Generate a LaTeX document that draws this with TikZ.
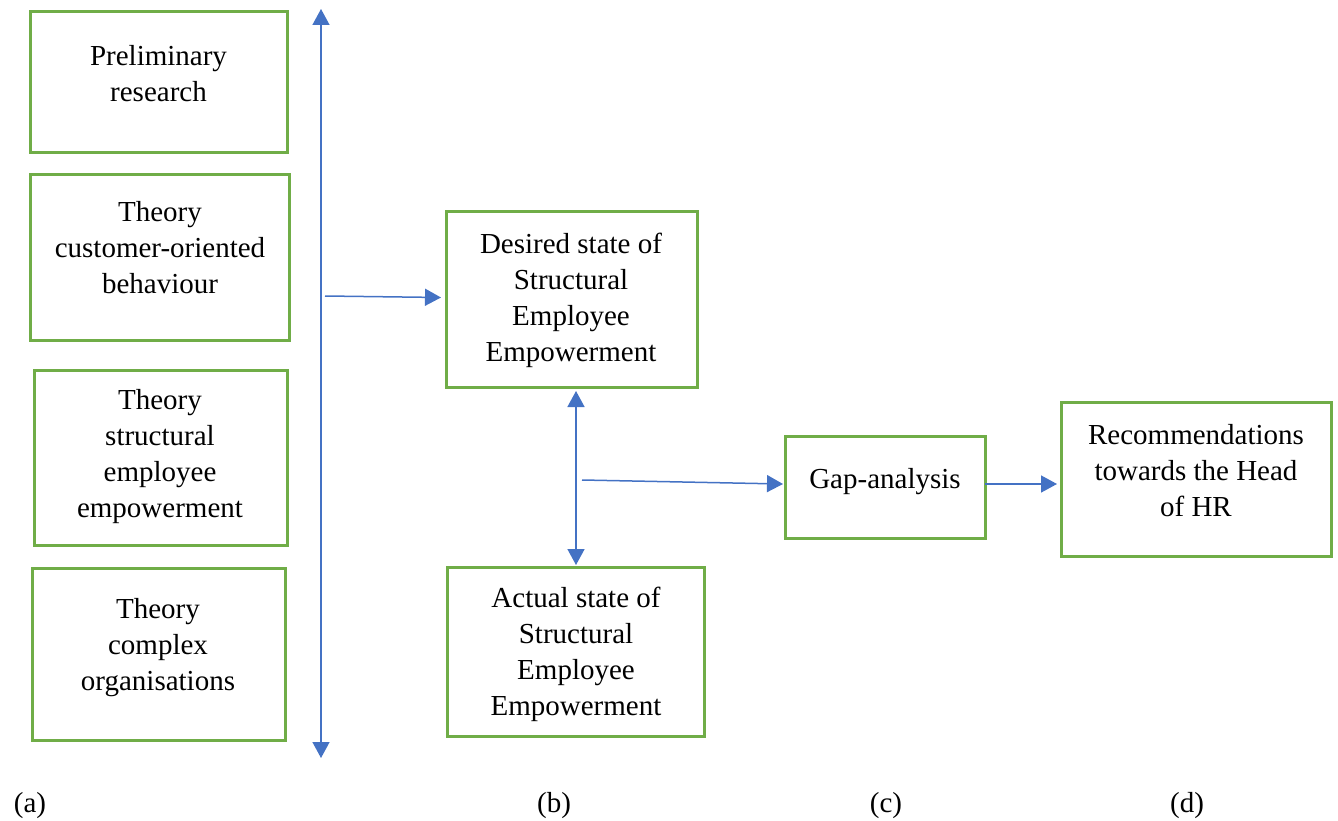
\documentclass[tikz,border=0pt]{standalone}
\usepackage{fontspec}
\setmainfont{Liberation Serif}
\usetikzlibrary{arrows.meta,calc}
\definecolor{boxgreen}{HTML}{70AD47}
\definecolor{arrblue}{HTML}{4472C4}
\begin{document}
\begin{tikzpicture}[x=1pt,y=-1pt,
  box/.style={draw=boxgreen,line width=3pt,inner sep=0pt,outer sep=0pt},
  txt/.style={anchor=north,align=center,inner sep=0pt,font=\fontsize{29}{36}\selectfont},
  lbl/.style={anchor=base,inner sep=0pt,font=\fontsize{29}{36}\selectfont},
  tip/.style={-{Triangle[width=17pt,length=16pt]}},
  conn/.style={draw=arrblue,line width=1.5pt,tip},
  dconn/.style={draw=arrblue,line width=1.5pt,{Triangle[width=17pt,length=16pt]}-{Triangle[width=17pt,length=16pt]}}
]
\useasboundingbox (0,0) rectangle (1338,821);

% boxes
\node[box,minimum width=257pt,minimum height=141pt] (pre) at (158.5,82.5) {};
\node[box,minimum width=259pt,minimum height=165pt] (cust) at (159.5,257.5) {};
\node[box,minimum width=253pt,minimum height=175pt] (struct) at (160.5,457.5) {};
\node[box,minimum width=253pt,minimum height=172pt] (compl) at (158.5,654) {};
\node[box,minimum width=251pt,minimum height=175pt] (desired) at (571.5,299.5) {};
\node[box,minimum width=257pt,minimum height=169pt] (actual) at (575.5,651.5) {};
\node[box,minimum width=200pt,minimum height=102pt] (gap) at (885,487) {};
\node[box,minimum width=270pt,minimum height=154pt] (rec) at (1196,479) {};

% texts
\node[txt] (tpre) at (158.5,45) {Preliminary\\research};
\node[txt] (tcust) at (160,201) {Theory\\customer-oriented\\behaviour};
\node[txt] (tstruct) at (160,389) {Theory\\structural\\employee\\empowerment};
\node[txt] (tcompl) at (158,598) {Theory\\complex\\organisations};
\node[txt] (tdesired) at (571,233) {Desired state of\\Structural\\Employee\\Empowerment};
\node[txt] (tactual) at (576,587) {Actual state of\\Structural\\Employee\\Empowerment};
\node[txt] (tgap) at (885,468) {Gap-analysis};
\node[txt] (trec) at (1196,424) {Recommendations\\towards the Head\\of HR};

% labels
\node[lbl] (la) at (30,812) {(a)};
\node[lbl] (lb) at (554,812) {(b)};
\node[lbl] (lc) at (886,812) {(c)};
\node[lbl] (ld) at (1187,812) {(d)};

% connectors
\coordinate (vtop) at (321,9);
\coordinate (vbot) at (321,758);
\coordinate (vmid) at (325,296);
\coordinate (dtop) at (576,391);
\coordinate (dbot) at (576,565);
\coordinate (gstart) at (582,480);
\draw[dconn] (vtop) -- (vbot);
\draw[conn] (vmid) -- ($(desired.west)+(-5,-2)$);
\draw[dconn] (dtop) -- (dbot);
\draw[conn] (gstart) -- ($(gap.west)+(-2,-3)$);
\draw[conn] ($(gap.east)+(0,-3)$) -- ($(rec.west)+(-4,5)$);
\end{tikzpicture}
\end{document}
